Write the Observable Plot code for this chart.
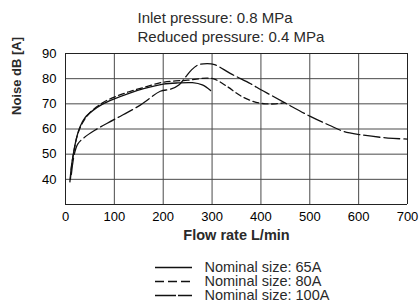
<!DOCTYPE html>
<html>
<head>
<meta charset="utf-8">
<script src="https://cdn.jsdelivr.net/npm/d3@7"></script>
<script src="https://cdn.jsdelivr.net/npm/@observablehq/plot@0.6"></script>
</head>
<body style="margin:0">
<div id="chart" style="position:relative;width:419px"></div>
<script>
const titleLines = ["Inlet pressure: 0.8 MPa", "Reduced pressure: 0.4 MPa"];
const xLabel = "Flow rate L/min";
const yLabel = "Noise dB [A]";
const xTicks = [0, 100, 200, 300, 400, 500, 600, 700];
const yTicks = [40, 50, 60, 70, 80, 90];
const yDomain = [30, 90];
const seriesNames = ["Nominal size: 65A", "Nominal size: 80A", "Nominal size: 100A"];

const flow65  = [9, 12, 16, 22, 30, 40, 57, 75, 100, 130, 160, 200, 230, 260, 280, 297];
const noise65 = [39, 45, 50, 56, 61, 64.5, 67.5, 69.8, 72, 74.2, 76, 77.8, 78.3, 78.4, 77.5, 75.3];

const flow80  = [10, 13, 18, 25, 35, 50, 75, 100, 130, 160, 200, 250, 290, 305, 330, 360, 390, 410, 430, 447];
const noise80 = [40, 46, 52, 58, 62.5, 66.5, 70.3, 72.7, 74.8, 76.5, 78.6, 79.4, 80.2, 79.8, 77, 73, 70.6, 70, 70, 70.4];

const flow100  = [12, 18, 25, 37, 60, 100, 153, 194, 215, 232, 245, 258, 272, 290, 305, 338, 379, 400, 420, 451, 502, 540, 570, 605, 660, 700];
const noise100 = [42, 50, 54, 56.4, 59.5, 63.8, 69.5, 75, 75.8, 77.5, 80.5, 83.5, 85.5, 86, 85.6, 82, 78, 75.6, 73.5, 70.2, 64.9, 61.5, 59, 57.7, 56.4, 56];

const dashes = [null, "6,3.5", "16,4"];
const legendDash = [null, "9,4", "21,2"];
const series = [
  {name: seriesNames[0], xs: flow65, ys: noise65},
  {name: seriesNames[1], xs: flow80, ys: noise80},
  {name: seriesNames[2], xs: flow100, ys: noise100}
];
const x0 = xTicks[0], x1 = xTicks[xTicks.length - 1];
const ink = "#2a2a2a";
const frameOpts = {width: 419, height: 250, marginTop: 53, marginBottom: 46, marginLeft: 65, marginRight: 12,
  x: {domain: [x0, x1]}, y: {domain: yDomain}};

// layer 1: grid, border and tick labels
const gridPlot = Plot.plot({
  ...frameOpts,
  style: {fontFamily: "Arial, sans-serif", fontSize: "13px"},
  marks: [
    Plot.ruleX(xTicks.slice(1, -1), {stroke: "#4a4a4a", strokeWidth: 1}),
    Plot.ruleY(yTicks.slice(0, -1), {stroke: "#4a4a4a", strokeWidth: 1}),
    Plot.ruleX([x0, x1], {stroke: "#222", strokeWidth: 1}),
    Plot.ruleY(yDomain, {stroke: "#222", strokeWidth: 1}),
    Plot.axisX(xTicks, {tickSize: 0, tickPadding: 7, label: null, fontSize: 13}),
    Plot.axisY(yTicks, {tickSize: 0, tickPadding: 9, label: null, fontSize: 13})
  ]
});

// layer 2: data curves, title and axis titles
const lineMarks = series.map((s, i) => {
  const rows = s.xs.map((x, j) => ({x, y: s.ys[j]}));
  return Plot.line(rows, {x: "x", y: "y", stroke: "#111", strokeWidth: 1.3,
    strokeDasharray: dashes[i], curve: "catmull-rom"});
});
const dataPlot = Plot.plot({
  ...frameOpts,
  style: {fontFamily: "Arial, sans-serif", fontSize: "13px", position: "absolute", left: "0px", top: "0px", background: "transparent"},
  x: {domain: [x0, x1], axis: null},
  y: {domain: yDomain, axis: null},
  marks: [
    ...lineMarks,
    Plot.text([titleLines.join("\n")], {frameAnchor: "top-left", textAnchor: "start", lineAnchor: "bottom",
      lineHeight: 1.27, dx: 72, dy: -11.3, fontSize: 15, fill: ink}),
    Plot.text([xLabel], {frameAnchor: "bottom", dy: 35, fontWeight: "bold", fontSize: 14.5, fill: ink}),
    Plot.text([yLabel], {frameAnchor: "left", dx: -49, dy: -14, rotate: -90, fontWeight: "bold", fontSize: 13, fill: ink})
  ]
});

// legend
const legend = Plot.plot({
  width: 419,
  height: 55,
  margin: 0,
  style: {fontFamily: "Arial, sans-serif", fontSize: "14.5px"},
  x: {domain: [0, 1], range: [155, 192], axis: null},
  y: {type: "point", domain: seriesNames, range: [16.7, 46], padding: 0, axis: null},
  marks: [
    ...seriesNames.map((n, i) => Plot.ruleY([n], {y: d => d, x1: 0, x2: 1, stroke: "#111", strokeWidth: 1.3, strokeDasharray: legendDash[i]})),
    Plot.text(seriesNames, {x: 1, y: d => d, dx: 12, textAnchor: "start", fontSize: 14.5, fill: ink})
  ]
});

const c = document.getElementById("chart");
c.appendChild(gridPlot);
c.appendChild(dataPlot);
c.appendChild(legend);
</script>
</body>
</html>
